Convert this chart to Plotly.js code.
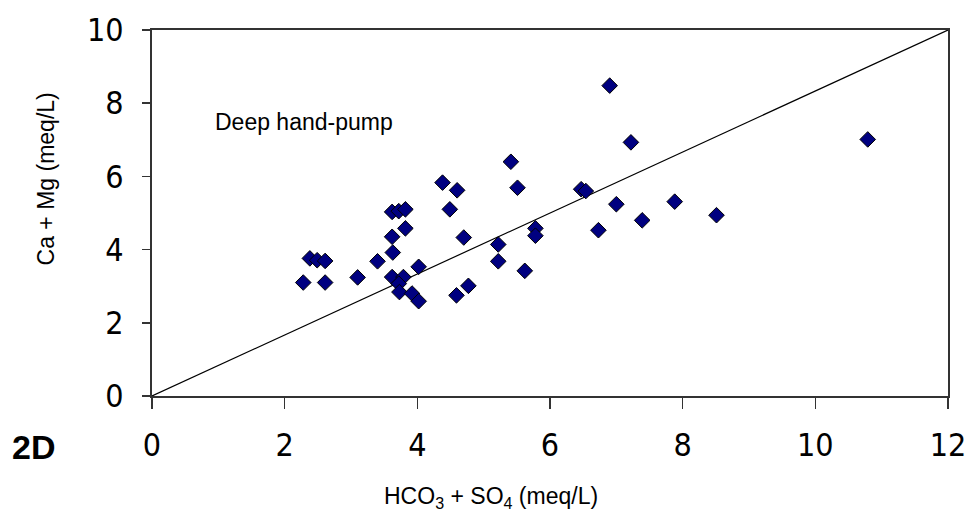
<!DOCTYPE html>
<html>
<head>
<meta charset="utf-8">
<script src="https://cdn.plot.ly/plotly-3.0.1.min.js"></script>
<style>html,body{margin:0;padding:0;background:#fff;}#chart{width:967px;height:514px;}</style>
</head>
<body>
<div id="chart"></div>
<script>
// HCO3 + SO4 (meq/L)
var xValues = [2.28, 2.38, 2.49, 2.61, 2.61, 3.10, 3.40, 3.63, 3.62, 3.62, 3.72, 3.82, 3.82, 4.02,
  3.62, 3.79, 3.72, 3.73, 3.92, 4.02, 4.38, 4.60, 4.49, 4.70, 4.59, 4.77, 5.22, 5.22, 5.41, 5.51,
  5.62, 5.78, 5.78, 6.90, 7.22, 6.47, 6.54, 7.00, 6.73, 7.39, 7.88, 8.51, 10.79];
// Ca + Mg (meq/L)
var yValues = [3.10, 3.76, 3.71, 3.69, 3.10, 3.24, 3.68, 3.92, 4.35, 5.03, 5.05, 5.10, 4.58, 3.53,
  3.25, 3.25, 3.07, 2.84, 2.80, 2.59, 5.83, 5.62, 5.10, 4.33, 2.75, 3.01, 4.14, 3.68, 6.40, 5.69,
  3.42, 4.58, 4.38, 8.48, 6.93, 5.65, 5.60, 5.24, 4.53, 4.80, 5.31, 4.94, 7.01];
// reference line end points
var lineX = [0, 12];
var lineY = [0, 10];
var xTicks = [0, 2, 4, 6, 8, 10, 12];
var yTicks = [0, 2, 4, 6, 8, 10];

var tickFont = {family: "'Liberation Sans Narrow', 'Arial Narrow', 'DejaVu Sans Condensed', sans-serif", size: 32, color: '#000'};
var textFont = {family: "'Liberation Sans', Arial, sans-serif", size: 23, color: '#000'};

var traces = [
  {x: lineX, y: lineY, mode: 'lines', line: {color: '#000', width: 1.2}, hoverinfo: 'skip', showlegend: false},
  {x: xValues, y: yValues, mode: 'markers', showlegend: false,
   marker: {symbol: 'diamond', size: 12, color: '#000080', line: {color: '#000', width: 1}}}
];

var layout = {
  width: 967, height: 514,
  margin: {l: 152, r: 19, t: 30, b: 118},
  paper_bgcolor: '#fff', plot_bgcolor: '#fff',
  showlegend: false,
  xaxis: {range: [0, 12], tickvals: xTicks, ticktext: xTicks.map(String), showgrid: false, zeroline: false,
    showline: true, mirror: true, linecolor: '#333', linewidth: 2, ticks: 'outside', ticklen: 11, tickwidth: 1.5,
    tickcolor: '#333', tickfont: tickFont, ticklabelstandoff: 9, fixedrange: true},
  yaxis: {range: [0, 10], tickvals: yTicks, ticktext: yTicks.map(String), showgrid: false, zeroline: false,
    showline: true, mirror: true, linecolor: '#333', linewidth: 2, ticks: 'outside', ticklen: 8, tickwidth: 1.5,
    tickcolor: '#333', tickfont: tickFont, ticklabelstandoff: 12, fixedrange: true},
  annotations: [
    {text: 'HCO<sub>3</sub> + SO<sub>4</sub> (meq/L)', xref: 'paper', yref: 'paper', x: 0.426, y: -0.277,
     xanchor: 'center', yanchor: 'middle', showarrow: false, font: textFont},
    {text: 'Ca + Mg (meq/L)', xref: 'paper', yref: 'paper', x: -0.1327, y: 0.5926, textangle: -90,
     xanchor: 'center', yanchor: 'middle', showarrow: false, font: textFont},
    {text: '<b>2D</b>', xref: 'paper', yref: 'paper', x: -0.149, y: -0.14,
     xanchor: 'center', yanchor: 'middle', showarrow: false,
     font: {family: "'Liberation Sans', Arial, sans-serif", size: 34, color: '#000'}},
    {text: 'Deep hand-pump', xref: 'x', yref: 'y', x: 2.29, y: 7.5,
     xanchor: 'center', yanchor: 'middle', showarrow: false, font: textFont}
  ]
};

Plotly.newPlot('chart', traces, layout, {displayModeBar: false, staticPlot: true});
</script>
</body>
</html>
